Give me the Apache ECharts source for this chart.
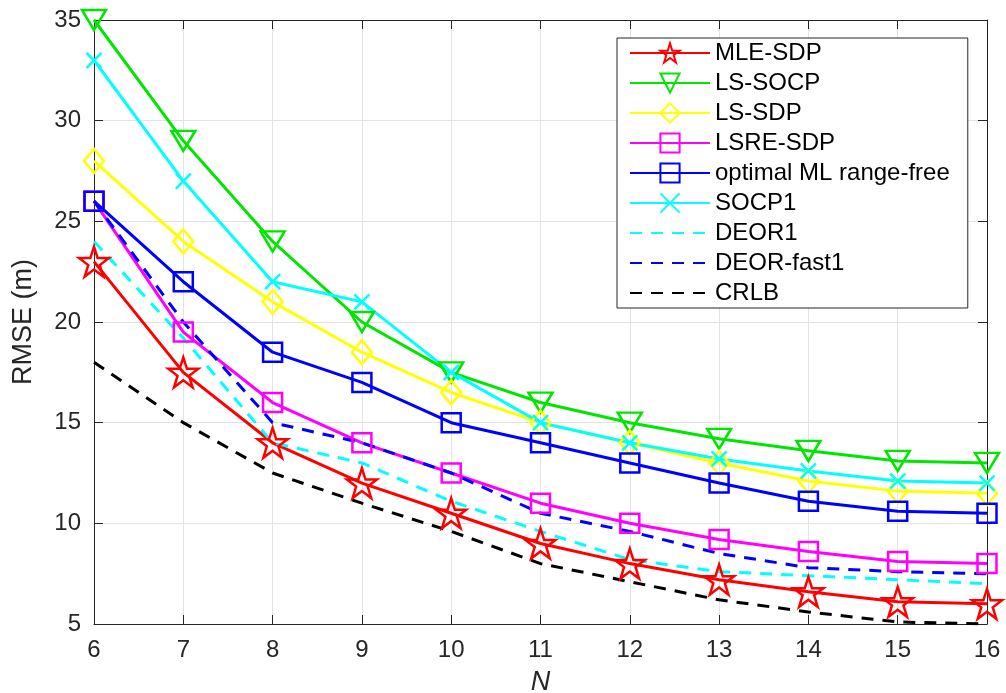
<!DOCTYPE html>
<html>
<head>
<meta charset="utf-8">
<script src="https://cdn.jsdelivr.net/npm/echarts@6/dist/echarts.min.js"></script>
<style>
  html, body { margin: 0; padding: 0; background: #fff; }
  #chart { width: 1006px; height: 693px; }
</style>
</head>
<body>
<div id="chart"></div>
<script>
// x values (number of anchors N)
var N = [6, 7, 8, 9, 10, 11, 12, 13, 14, 15, 16]

// RMSE (m)
var mleSdp     = [23, 17.5, 14, 12, 10.5, 9, 8, 7.2, 6.6, 6.1, 6.0]
var lsSocp     = [35, 29, 24, 20, 17.5, 16, 15, 14.2, 13.6, 13.1, 13.0]
var lsSdp      = [28, 24, 21, 18.5, 16.5, 15, 14, 13, 12.1, 11.6, 11.5]
var lsreSdp    = [26, 19.5, 16, 14, 12.5, 11, 10, 9.2, 8.6, 8.1, 8.0]
var optimalMl  = [26, 22, 18.5, 17, 15, 14, 13, 12, 11.1, 10.6, 10.5]
var socp1      = [33, 27, 22, 21, 17.5, 15, 14, 13.2, 12.6, 12.1, 12.0]
var deor1      = [24, 19.2, 14, 13, 11.1, 9.6, 8.2, 7.6, 7.4, 7.2, 7.0]
var deorFast1  = [26, 20, 15, 14, 12.5, 10.5, 9.6, 8.5, 7.8, 7.6, 7.5]
var crlb       = [18, 15, 12.5, 11, 9.6, 8, 7.1, 6.2, 5.6, 5.1, 5.0]

var xTicks = [6, 16, 1]
var yTicks = [5, 35, 5]

var STAR = 'path://M50,0 L61.8,35.1 L98.9,35.1 L68.8,56.7 L80.3,91.9 L50,70.2 L19.7,91.9 L31.2,56.7 L1.1,35.1 L38.2,35.1 Z'
var TRI_DOWN = 'path://M0,0 L10,0 L5,8.66 Z'
var CROSS = 'path://M0,0 L10,10 M10,0 L0,10'

function pairs(arr) {
  return N.map(function (n, i) { return [n, arr[i]] })
}

function mk(name, data, color, symbol, size, dashed) {
  return {
    name: name,
    type: 'line',
    data: pairs(data),
    color: color,
    symbol: dashed ? 'circle' : symbol,
    symbolSize: size,
    showSymbol: !dashed,
    lineStyle: { width: 3, color: color, type: dashed ? [12, 9] : 'solid' },
    // hollow markers like matlab; dashed lines get no marker at all (also in legend)
    itemStyle: {
      color: 'rgba(0,0,0,0)',
      borderColor: dashed ? 'rgba(0,0,0,0)' : color,
      borderWidth: dashed ? 0 : 2.5
    },
    emphasis: { disabled: true },
    animation: false
  }
}

var font = ['Liberation Sans', 'Arial', 'sans-serif']

var chart = echarts.init(document.getElementById('chart'))

var axisCommon = {
  axisLine: { show: true, lineStyle: { color: '#262626', width: 1 } },
  axisTick: { show: true, inside: true, length: 9, lineStyle: { color: '#262626' } }
}

var option = {
  backgroundColor: '#fff',
  animation: false,
  grid: { left: 94, right: 19, top: 20, bottom: 69, outerBoundsMode: 'none' },
  legend: {
    orient: 'vertical',
    left: 617,
    top: 38,
    padding: [3, 18, 3, 12],
    itemWidth: 80,
    itemHeight: 24,
    itemGap: 6,
    backgroundColor: '#fff',
    borderColor: '#262626',
    borderWidth: 1,
    borderRadius: 0,
    textStyle: { color: '#000', fontSize: 24, fontFamily: font },
    data: ['MLE-SDP', 'LS-SOCP', 'LS-SDP', 'LSRE-SDP', 'optimal ML range-free', 'SOCP1', 'DEOR1', 'DEOR-fast1', 'CRLB']
  },
  xAxis: [
    Object.assign({
      type: 'value',
      min: xTicks[0], max: xTicks[1], interval: xTicks[2],
      name: 'N',
      nameLocation: 'middle',
      nameGap: 45,
      nameTextStyle: { color: '#262626', fontSize: 27, fontStyle: 'italic', fontFamily: font },
      axisLabel: { color: '#262626', fontSize: 24, margin: 14, fontFamily: font },
      splitLine: { show: true, lineStyle: { color: '#e3e3e3', width: 1 } }
    }, axisCommon),
    Object.assign({
      type: 'value', position: 'top',
      min: xTicks[0], max: xTicks[1], interval: xTicks[2],
      axisLabel: { show: false },
      splitLine: { show: false }
    }, axisCommon)
  ],
  yAxis: [
    Object.assign({
      type: 'value',
      min: yTicks[0], max: yTicks[1], interval: yTicks[2],
      name: 'RMSE (m)',
      nameLocation: 'middle',
      nameGap: 57,
      nameTextStyle: { color: '#262626', fontSize: 27, fontFamily: font },
      axisLabel: { color: '#262626', fontSize: 24, margin: 13, fontFamily: font },
      splitLine: { show: true, lineStyle: { color: '#e3e3e3', width: 1 } }
    }, axisCommon),
    Object.assign({
      type: 'value', position: 'right',
      min: yTicks[0], max: yTicks[1], interval: yTicks[2],
      axisLabel: { show: false },
      splitLine: { show: false }
    }, axisCommon)
  ],
  series: [
    mk('MLE-SDP', mleSdp, '#ff0000', STAR, 30, false),
    mk('LS-SOCP', lsSocp, '#00e600', TRI_DOWN, [24, 20], false),
    mk('LS-SDP', lsSdp, '#ffff00', 'diamond', [20, 24], false),
    mk('LSRE-SDP', lsreSdp, '#ff00ff', 'rect', 19, false),
    mk('optimal ML range-free', optimalMl, '#0000ff', 'rect', 19, false),
    mk('SOCP1', socp1, '#00ffff', CROSS, 15, false),
    mk('DEOR1', deor1, '#00ffff', 'none', 0, true),
    mk('DEOR-fast1', deorFast1, '#0000ff', 'none', 0, true),
    mk('CRLB', crlb, '#000000', 'none', 0, true)
  ]
}

chart.setOption(option)
</script>
</body>
</html>
